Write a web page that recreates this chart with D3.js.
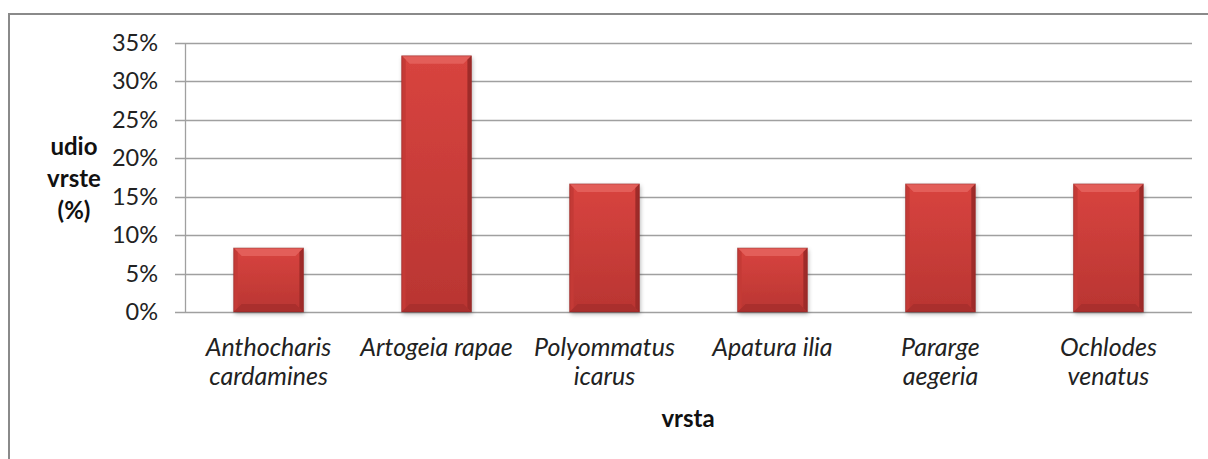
<!DOCTYPE html>
<html>
<head>
<meta charset="utf-8">
<script src="https://cdn.jsdelivr.net/npm/d3@7"></script>
<style>
  body { margin: 0; background: #fff; }
  svg { display: block; }
</style>
</head>
<body>
<div id="chart"></div>
<script>
const categories = [
  ["Anthocharis", "cardamines"],
  ["Artogeia rapae"],
  ["Polyommatus", "icarus"],
  ["Apatura ilia"],
  ["Pararge", "aegeria"],
  ["Ochlodes", "venatus"]
];
const values = [8.33, 33.33, 16.67, 8.33, 16.67, 16.67];
const yTicks = [0, 5, 10, 15, 20, 25, 30, 35];
const yTitle = ["udio", "vrste", "(%)"];
const xTitle = "vrsta";

const width = 1208;
const height = 459;
const margin = ({top: 43, right: 16, bottom: 147, left: 185});
const font = "Lato, 'Open Sans', sans-serif";

const data = values.map((v, i) => ({ label: categories[i], value: v, i }));

const xScale = d3.scaleBand()
  .domain(d3.range(data.length))
  .range([margin.left, width - margin.right])
  .paddingInner(0.585)
  .paddingOuter(0.29);

const yScale = d3.scaleLinear()
  .domain([0, 35])
  .range([height - margin.bottom, margin.top]);

const svg = d3.select("#chart").append("svg")
  .attr("width", width)
  .attr("height", height)
  .attr("viewBox", [0, 0, width, height]);

const defs = svg.append("defs");
const grad = defs.append("linearGradient")
  .attr("id", "barFill")
  .attr("x1", 0).attr("y1", 0).attr("x2", 0).attr("y2", 1);
grad.append("stop").attr("offset", "0%").attr("stop-color", "#d8443f");
grad.append("stop").attr("offset", "100%").attr("stop-color", "#b93532");

const shadow = defs.append("filter")
  .attr("id", "shadow")
  .attr("x", "-20%").attr("y", "-20%").attr("width", "140%").attr("height", "140%");
shadow.append("feDropShadow")
  .attr("dx", 1).attr("dy", 2).attr("stdDeviation", 2)
  .attr("flood-color", "#000").attr("flood-opacity", 0.3);

// outer frame (top and left only visible)
svg.append("path")
  .attr("d", `M9,${height} V14 H${width}`)
  .attr("fill", "none")
  .attr("stroke", "#8a8a8a")
  .attr("stroke-width", 2);

// grid lines
svg.append("g")
  .attr("stroke", "#a0a0a0")
  .attr("stroke-width", 1.3)
  .selectAll("line")
  .data(yTicks)
  .join("line")
    .attr("x1", margin.left - 10)
    .attr("x2", width - margin.right)
    .attr("y1", d => Math.round(yScale(d)) + 0.5)
    .attr("y2", d => Math.round(yScale(d)) + 0.5);

// y axis line
svg.append("line")
  .attr("x1", margin.left + 0.5).attr("x2", margin.left + 0.5)
  .attr("y1", yScale(35)).attr("y2", yScale(0))
  .attr("stroke", "#a0a0a0")
  .attr("stroke-width", 1.3);

const yAxis = d3.axisLeft(yScale)
  .tickValues(yTicks)
  .tickFormat(d => d + "%")
  .tickSize(0)
  .tickPadding(27);

svg.append("g")
  .attr("transform", `translate(${margin.left},0)`)
  .call(yAxis)
  .call(g => g.select(".domain").remove())
  .call(g => g.selectAll("text")
    .attr("font-family", font)
    .attr("font-size", 23.5)
    .attr("fill", "#222"));

// bars
const bev = 8;
const bw = xScale.bandwidth();
const bars = svg.append("g")
  .selectAll("g")
  .data(data)
  .join("g")
    .attr("transform", d => `translate(${xScale(d.i)},${yScale(d.value)})`);

bars.append("rect")
  .attr("width", bw)
  .attr("height", d => yScale(0) - yScale(d.value))
  .attr("fill", "url(#barFill)")
  .attr("filter", "url(#shadow)");

// top bevel
bars.append("path")
  .attr("d", `M0,0 H${bw} L${bw - bev},${bev} H${bev} Z`)
  .attr("fill", "#e35e59");
// left bevel
bars.append("path")
  .attr("d", d => { const h = yScale(0) - yScale(d.value); return `M0,0 L${bev / 2},${bev / 2} V${h - bev / 2} L0,${h} Z`; })
  .attr("fill", "#c43a36");
// right bevel
bars.append("path")
  .attr("d", d => { const h = yScale(0) - yScale(d.value); return `M${bw},0 L${bw - bev / 2},${bev / 2} V${h - bev / 2} L${bw},${h} Z`; })
  .attr("fill", "#9e2b29");
// bottom bevel
bars.append("path")
  .attr("d", d => { const h = yScale(0) - yScale(d.value); return `M0,${h} L${bev},${h - bev} H${bw - bev} L${bw},${h} Z`; })
  .attr("fill", "#aa2f2d");
// thin outline
bars.append("rect")
  .attr("width", bw)
  .attr("height", d => yScale(0) - yScale(d.value))
  .attr("fill", "none")
  .attr("stroke", "#7a1f1d")
  .attr("stroke-opacity", 0.4)
  .attr("stroke-width", 1);

// category labels
const xLabels = svg.append("g")
  .attr("font-family", font)
  .attr("font-style", "italic")
  .attr("font-size", 25)
  .attr("fill", "#222")
  .attr("text-anchor", "middle")
  .selectAll("text")
  .data(data)
  .join("text")
    .attr("x", d => xScale(d.i) + bw / 2)
    .attr("y", 356);

xLabels.selectAll("tspan")
  .data(d => d.label)
  .join("tspan")
    .attr("x", function() { return d3.select(this.parentNode).attr("x"); })
    .attr("dy", (d, j) => j === 0 ? 0 : 29)
    .text(d => d);

// y title
svg.append("text")
  .attr("font-family", font)
  .attr("font-weight", "bold")
  .attr("font-size", 24)
  .attr("fill", "#111")
  .attr("text-anchor", "middle")
  .attr("y", 155)
  .selectAll("tspan")
  .data(yTitle)
  .join("tspan")
    .attr("x", 74)
    .attr("dy", (d, j) => j === 0 ? 0 : 32)
    .text(d => d);

// x title
svg.append("text")
  .attr("x", 688)
  .attr("y", 427)
  .attr("font-family", font)
  .attr("font-weight", "bold")
  .attr("font-size", 24)
  .attr("fill", "#111")
  .attr("text-anchor", "middle")
  .text(xTitle);
</script>
</body>
</html>
